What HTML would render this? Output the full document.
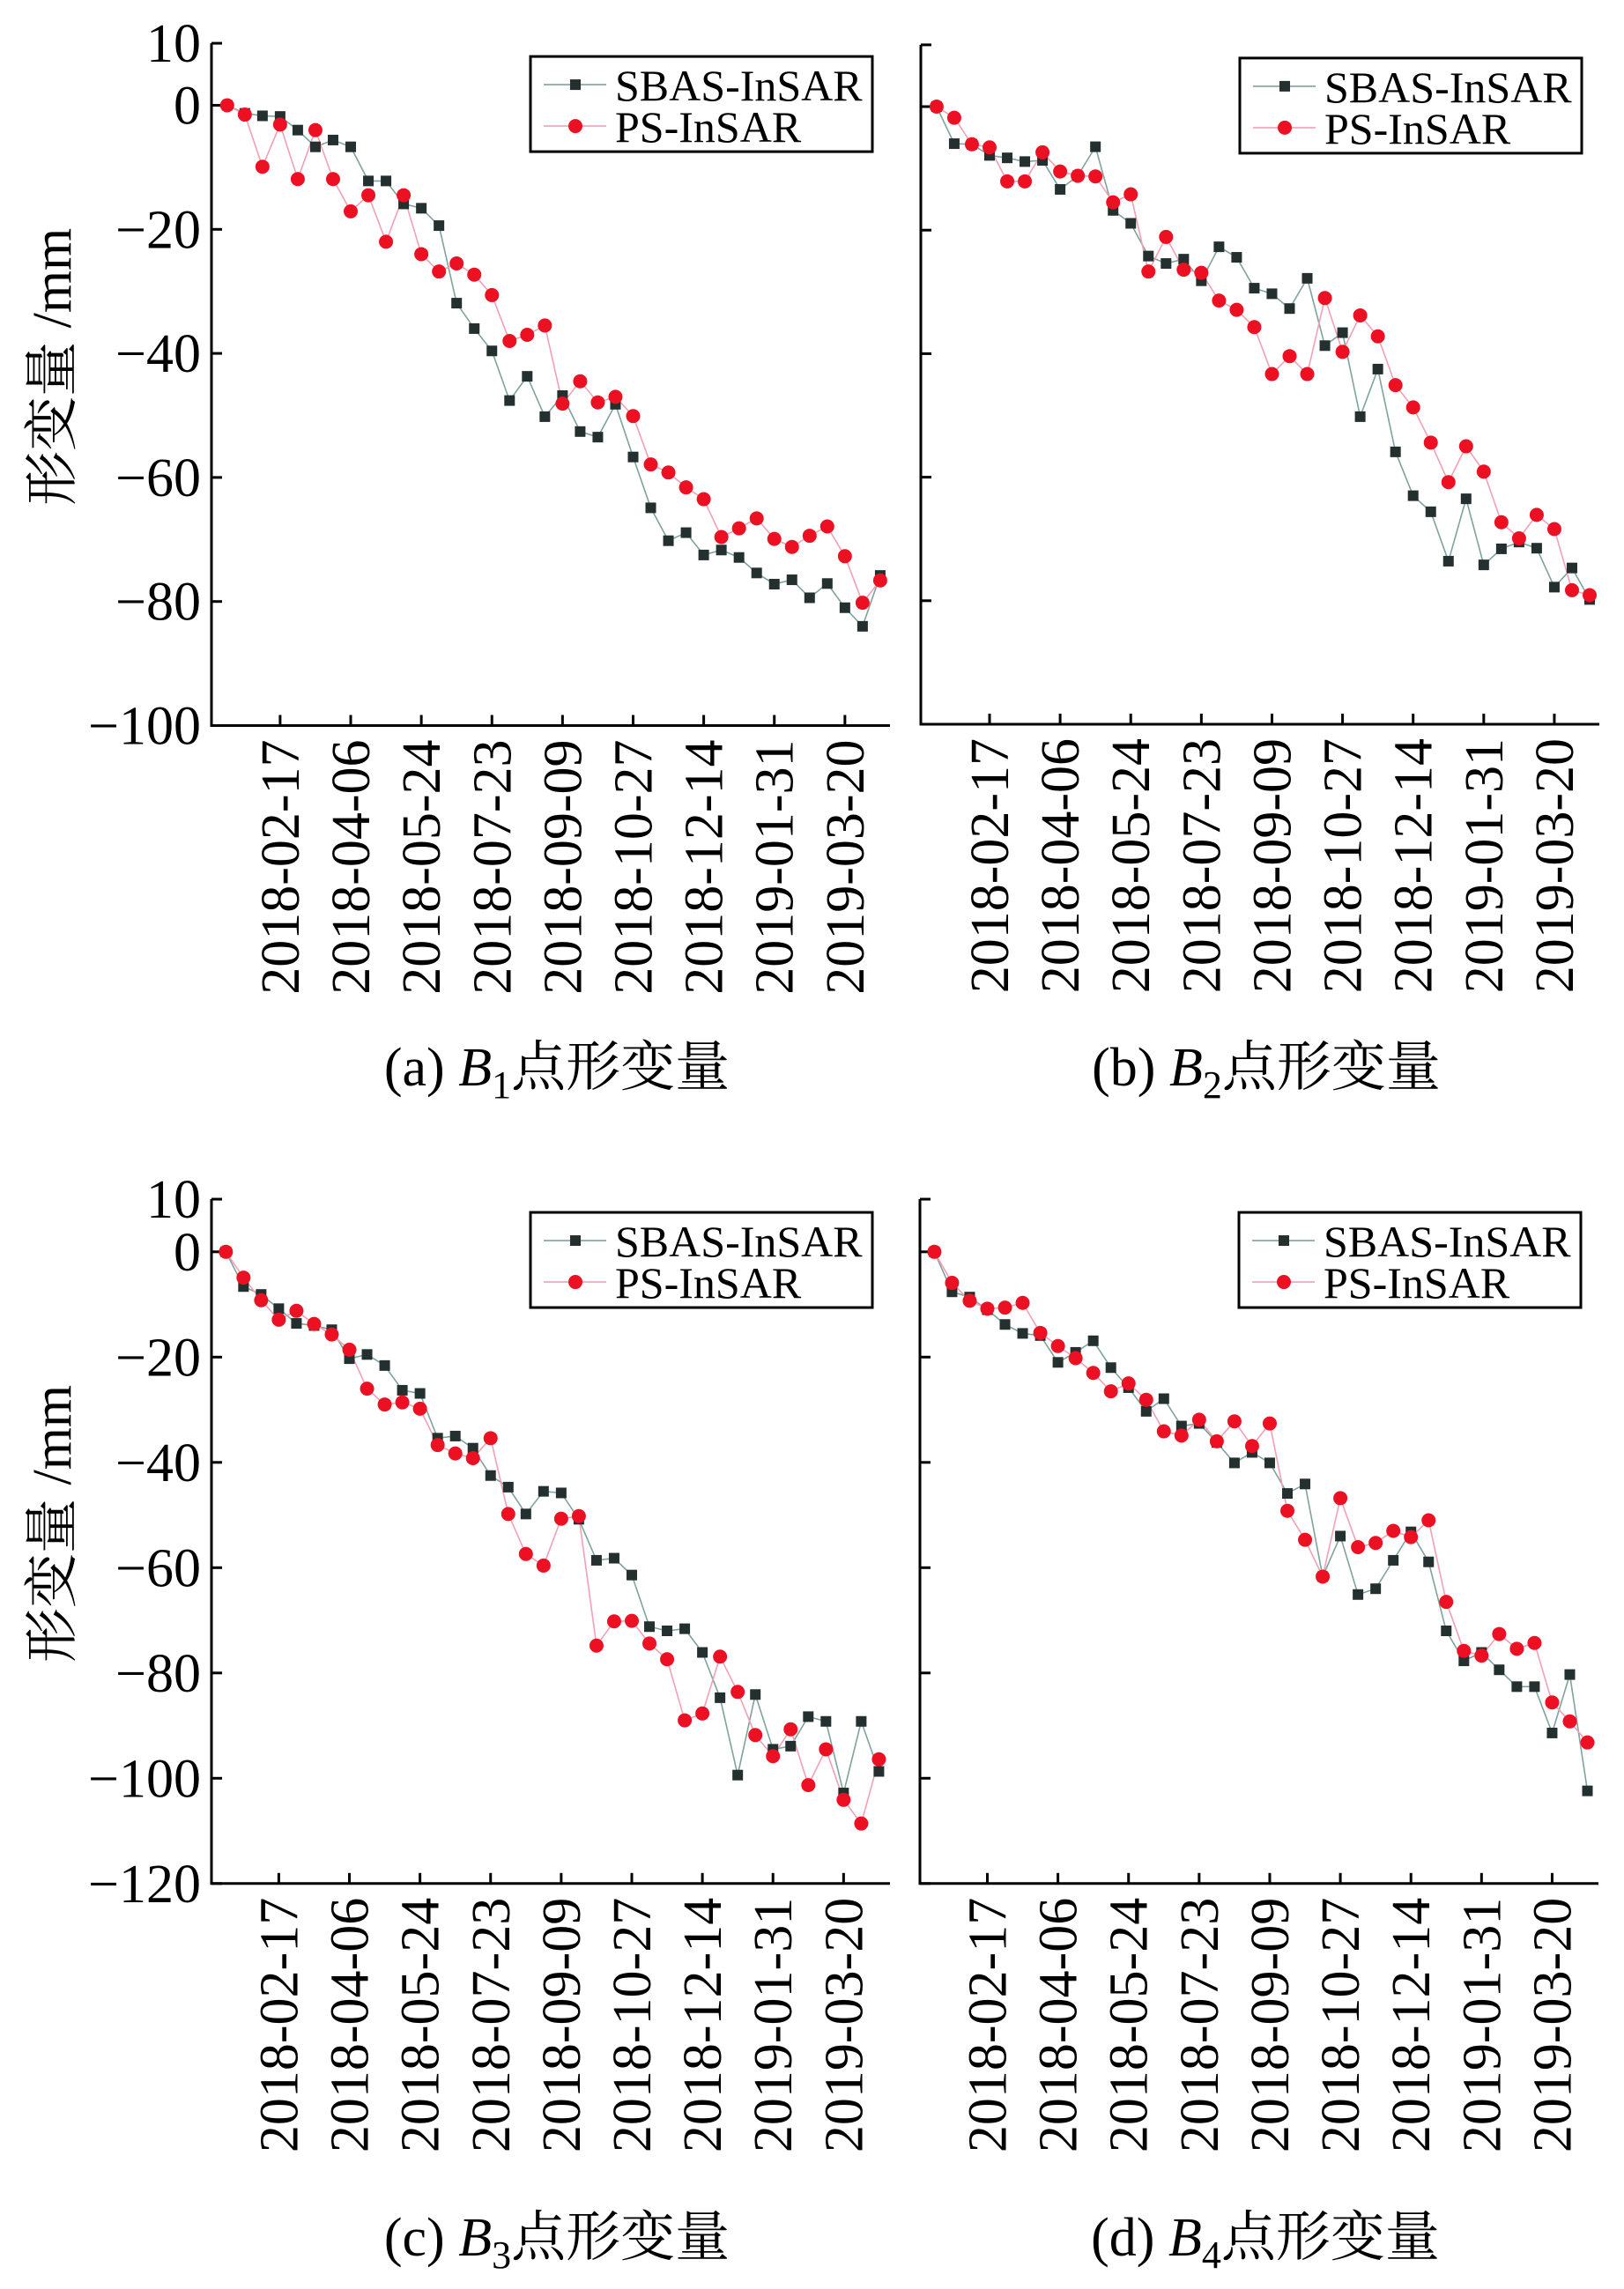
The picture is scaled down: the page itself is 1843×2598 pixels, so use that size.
<!DOCTYPE html>
<html><head><meta charset="utf-8"><style>
html,body{margin:0;padding:0;background:#fff;}
svg{display:block;}
text{font-family:"Liberation Serif","Noto Serif CJK SC","Noto Sans CJK SC",serif;fill:#000;}
</style></head><body>
<svg id="fig" xmlns="http://www.w3.org/2000/svg" width="1843" height="2598" viewBox="0 0 1843 2598"></svg>
<script>
const dateLabels=["2018-02-17","2018-04-06","2018-05-24","2018-07-23","2018-09-09","2018-10-27","2018-12-14","2019-01-31","2019-03-20"];
const tickIdx=[3,7,11,15,19,23,27,31,35];
const yTicksTop=[10,0,-20,-40,-60,-80,-100];
const yTicksBot=[10,0,-20,-40,-60,-80,-100,-120];
const sbasA=[0,-1.3,-1.7,-1.8,-4.0,-6.7,-5.6,-6.7,-12.2,-12.2,-15.9,-16.6,-19.4,-31.9,-36.0,-39.6,-47.6,-43.7,-50.2,-46.8,-52.6,-53.5,-48.2,-56.7,-64.9,-70.2,-68.9,-72.5,-71.7,-72.9,-75.4,-77.2,-76.5,-79.4,-77.1,-81.0,-84.0,-75.8];
const psA=[0,-1.5,-9.9,-3.1,-11.9,-4.0,-11.9,-17.1,-14.5,-22.0,-14.5,-24.0,-26.8,-25.5,-27.3,-30.6,-38.0,-37.0,-35.5,-48.1,-44.5,-47.9,-47.0,-50.1,-57.9,-59.2,-61.6,-63.5,-69.6,-68.2,-66.6,-69.9,-71.2,-69.4,-67.9,-72.7,-80.2,-76.6];
const sbasB=[0,-6.0,-6.1,-7.9,-8.3,-8.9,-8.7,-13.4,-11.2,-6.5,-16.8,-18.9,-24.2,-25.4,-24.7,-28.2,-22.7,-24.4,-29.4,-30.3,-32.7,-27.8,-38.7,-36.6,-50.2,-42.5,-55.9,-63.0,-65.6,-73.6,-63.5,-74.2,-71.6,-70.5,-71.5,-77.8,-74.7,-79.8];
const psB=[0,-1.8,-6.1,-6.6,-12.1,-12.1,-7.4,-10.5,-11.2,-11.3,-15.5,-14.2,-26.7,-21.1,-26.4,-26.9,-31.4,-32.9,-35.7,-43.3,-40.4,-43.3,-31.0,-39.7,-33.8,-37.2,-45.1,-48.7,-54.4,-60.8,-55.0,-59.1,-67.3,-69.9,-66.1,-68.4,-78.3,-79.1];
const sbasC=[0,-6.6,-8.1,-10.8,-13.6,-14.0,-14.8,-20.3,-19.5,-21.6,-26.3,-26.9,-35.4,-35.0,-37.3,-42.5,-44.7,-49.8,-45.5,-45.8,-50.8,-58.6,-58.2,-61.4,-71.2,-72.0,-71.6,-76.1,-84.7,-99.4,-84.1,-94.5,-93.9,-88.3,-89.2,-102.8,-89.2,-98.7];
const psC=[0,-4.9,-9.2,-12.9,-11.2,-13.7,-15.7,-18.6,-26.0,-29.0,-28.6,-29.8,-36.7,-38.3,-39.2,-35.4,-49.8,-57.4,-59.6,-50.7,-50.2,-74.8,-70.2,-70.1,-74.4,-77.4,-89.0,-87.7,-76.9,-83.6,-91.8,-95.8,-90.7,-101.3,-94.5,-104.1,-108.6,-96.4];
const sbasD=[0,-7.6,-8.6,-11.0,-13.8,-15.5,-15.9,-21.0,-19.1,-16.9,-22.0,-25.8,-30.3,-27.9,-33.1,-32.6,-36.2,-40.1,-38.1,-40.1,-45.9,-44.1,-61.7,-54.0,-65.1,-64.0,-58.6,-53.2,-58.9,-72.0,-77.7,-76.1,-79.4,-82.6,-82.6,-91.4,-80.3,-102.4];
const psD=[0,-5.9,-9.3,-10.8,-10.6,-9.7,-15.4,-17.9,-20.2,-23.0,-26.5,-25.0,-28.1,-34.1,-34.9,-31.9,-36.0,-32.2,-36.9,-32.6,-49.2,-54.7,-61.7,-46.8,-56.1,-55.3,-53.0,-54.2,-51.0,-66.5,-75.8,-76.7,-72.6,-75.4,-74.3,-85.6,-89.2,-93.2];

const NS="http://www.w3.org/2000/svg";
const svg=document.getElementById('fig');
function mk(tag,attrs,parent){const e=document.createElementNS(NS,tag);for(const k in attrs)e.setAttribute(k,attrs[k]);(parent||svg).appendChild(e);return e;}

function panel(cfg){
  const g=mk('g',{});
  
  
  const ymin=cfg.ymin;
  const top=cfg.zeroY-10*cfg.k, bottom=cfg.zeroY-ymin*cfg.k;
  const xs=i=>cfg.x0+i*20.03;
  const ys=v=>cfg.zeroY-v*cfg.k;
  const right=cfg.axisX+770;
  const ax=mk('path',{d:`M${cfg.axisX},${top} L${cfg.axisX},${bottom} L${right},${bottom}`,fill:'none',stroke:'#000','stroke-width':3},g);
  
  
  cfg.yt.forEach(v=>{
    const y=ys(v);
    mk('line',{x1:cfg.axisX,y1:y,x2:cfg.axisX+12,y2:y,stroke:'#000','stroke-width':3},g);
    if(cfg.labels){
      const t=mk('text',{x:cfg.axisX-12,y:y+21,'text-anchor':'end','font-size':62},g);
      t.textContent=v<0?'\u2212'+(-v):String(v);
      
      
    }
  });
  tickIdx.forEach((ti,j)=>{
    const x=xs(ti);
    mk('line',{x1:x,y1:bottom,x2:x,y2:bottom-12,stroke:'#000','stroke-width':3},g);
    const t=mk('text',{x:0,y:0,'text-anchor':'end','font-size':62,transform:`translate(${x+21},${bottom+16}) rotate(-90)`},g);
    t.textContent=dateLabels[j];
    
    
  });
  if(cfg.labels){
    const yt=mk('text',{x:0,y:0,'text-anchor':'middle','font-size':62,transform:`translate(80,${(top+bottom)/2-20}) rotate(-90)`},g);
    yt.textContent='形变量 /mm';
    
    
  }
  const sp=cfg.sbas.map((v,i)=>xs(i)+','+ys(v)).join(' ');
  const pp=cfg.ps.map((v,i)=>xs(i)+','+ys(v)).join(' ');
  const l1=mk('polyline',{points:sp,fill:'none',stroke:'#7fa39c','stroke-width':1.6},g);
  
  
  const l2=mk('polyline',{points:pp,fill:'none',stroke:'#f2a0b4','stroke-width':1.6},g);
  
  
  cfg.sbas.forEach((v,i)=>{
    const r=mk('rect',{x:xs(i)-6,y:ys(v)-6,width:12,height:12,fill:'#24302f'},g);
    
    
  });
  cfg.ps.forEach((v,i)=>{
    const c=mk('circle',{cx:xs(i),cy:ys(v),r:8,fill:'#ec1022'},g);
    
    
  });
  const lg=mk('g',{},g);
  
  
  const lx=cfg.axisX+362, ly=top+15;
  mk('rect',{x:lx,y:ly,width:388,height:108,fill:'#fff',stroke:'#000','stroke-width':3},lg);
  mk('line',{x1:lx+15,y1:ly+32,x2:lx+86,y2:ly+32,stroke:'#7fa39c','stroke-width':1.6},lg);
  mk('rect',{x:lx+45,y:ly+26,width:12,height:12,fill:'#24302f'},lg);
  const t1=mk('text',{x:lx+96,y:ly+50,'font-size':50},lg);t1.textContent='SBAS-InSAR';
  
  
  mk('line',{x1:lx+15,y1:ly+79,x2:lx+86,y2:ly+79,stroke:'#f2a0b4','stroke-width':1.6},lg);
  mk('circle',{cx:lx+51,cy:ly+79,r:8,fill:'#ec1022'},lg);
  const t2=mk('text',{x:lx+96,y:ly+97,'font-size':50},lg);t2.textContent='PS-InSAR';
  
  
  const cap=mk('text',{x:cfg.axisX+392,y:cfg.capY,'text-anchor':'middle','font-size':62},g);
  cap.innerHTML=`(${cfg.id}) <tspan font-style="italic">B</tspan><tspan font-size="44" dy="14">${cfg.n}</tspan><tspan dy="-14">点形变量</tspan>`;
  
  
}
panel({id:'a',n:1,labels:true,axisX:240,x0:257.8,zeroY:119.5,k:7.04,ymin:-100,yt:yTicksTop,sbas:sbasA,ps:psA,capY:1232});
panel({id:'b',n:2,labels:false,axisX:1045,x0:1062.9,zeroY:121,k:7.01,ymin:-100,yt:yTicksTop,sbas:sbasB,ps:psB,capY:1232});
panel({id:'c',n:3,labels:true,axisX:240,x0:256.3,zeroY:1420.8,k:5.975,ymin:-120,yt:yTicksBot,sbas:sbasC,ps:psC,capY:2560});
panel({id:'d',n:4,labels:false,axisX:1044,x0:1060.4,zeroY:1420.8,k:5.975,ymin:-120,yt:yTicksBot,sbas:sbasD,ps:psD,capY:2560});
</script>
</body></html>
